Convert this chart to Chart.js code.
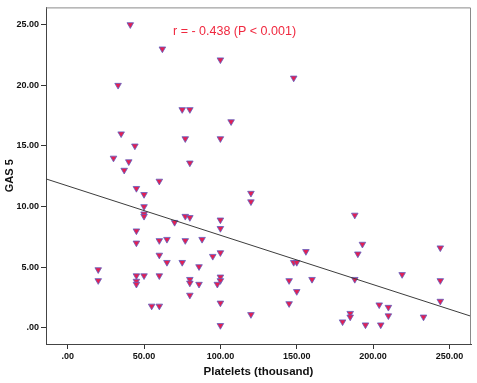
<!DOCTYPE html>
<html>
<head>
<meta charset="utf-8">
<style>
  html, body { margin: 0; padding: 0; background: #fff; }
  #wrap { width: 477px; height: 383px; }
</style>
<script src="https://cdn.jsdelivr.net/npm/chart.js@4/dist/chart.umd.min.js"></script>
</head>
<body>
<div id="wrap"><canvas id="scatterChart" width="477" height="383"></canvas></div>
<script>
var platelets = [41, 62, 100, 33, 75, 80, 107, 35, 77, 100, 44, 30, 40, 80, 37, 60, 45, 148,
  50, 50, 50, 50, 77, 80, 100, 70, 100, 45, 45, 60, 65, 77, 88, 100, 95, 60, 65, 75, 86, 20, 20,
  45, 50, 60, 45, 45, 80, 80, 86, 80, 100, 100, 98, 55, 60, 100, 100,
  120, 120, 188, 193, 190, 244, 156, 148, 150, 145, 160, 188, 219, 244, 150, 145, 244,
  204, 210, 210, 120, 185, 185, 180, 195, 205, 233];
var gas5 = [25, 23, 22.1, 20, 18, 18, 17, 16, 15.6, 15.6, 15, 14, 13.7, 13.6, 13, 12.1, 11.5, 20.6,
  11, 10, 9.4, 9.2, 9.2, 9.1, 8.9, 8.7, 8.2, 8, 7, 7.2, 7.3, 7.2, 7.3, 6.2, 5.9, 6, 5.4, 5.4, 5.05, 4.8, 3.9,
  4.3, 4.3, 4.3, 3.85, 3.6, 4, 3.7, 3.6, 2.7, 4.2, 3.9, 3.6, 1.8, 1.8, 2.05, 0.2,
  11.1, 10.4, 9.3, 6.9, 6.1, 6.6, 6.3, 5.4, 5.4, 3.9, 4, 4, 4.4, 3.9, 3, 2, 2.2,
  1.9, 1.7, 1, 1.1, 1.2, 0.9, 0.5, 0.25, 0.25, 0.9];
var fitX = [-14.2, 264.1];
var fitY = [12.28, 0.96];
var xTicks = [0, 50, 100, 150, 200, 250];
var yTicks = [0, 5, 10, 15, 20, 25];
var noteText = "r = - 0.438 (P < 0.001)";

(function () {
  var font = "Arial, 'Liberation Sans', sans-serif";
  var tickFmt = function (v) {
    return v === 0 ? ".00" : v.toFixed(2);
  };

  var pts = platelets.map(function (x, i) { return { x: x, y: gas5[i] }; });
  var fit = fitX.map(function (x, i) { return { x: x, y: fitY[i] }; });

  var frame = {
    id: "frame",
    afterDraw: function (chart) {
      var a = chart.chartArea, c = chart.ctx;
      c.save();
      c.strokeStyle = "#8a8a8a";
      c.lineWidth = 1;
      c.beginPath();
      c.moveTo(a.left, a.top + 0.5);
      c.lineTo(a.right - 0.5, a.top + 0.5);
      c.lineTo(a.right - 0.5, a.bottom);
      c.stroke();
      // annotation placed in data units
      var xs = chart.scales.x, ys = chart.scales.y;
      c.fillStyle = "#f0283f";
      c.font = "12.5px " + font;
      c.textBaseline = "middle";
      c.fillText(noteText, xs.getPixelForValue(69), ys.getPixelForValue(24.4));
      c.restore();
    },
  };

  new Chart(document.getElementById("scatterChart"), {
    type: "scatter",
    data: {
      datasets: [
        {
          type: "line",
          data: fit,
          borderColor: "#3c3c3c",
          borderWidth: 1,
          pointRadius: 0,
          fill: false,
        },
        {
          data: pts,
          pointStyle: "triangle",
          rotation: 180,
          pointRadius: 3.8,
          backgroundColor: "#e41f52",
          borderColor: "#6060c0",
          borderWidth: 0.8,
        },
      ],
    },
    options: {
      responsive: false,
      animation: false,
      layout: { padding: { top: 5, right: 6, left: 0, bottom: 0 } },
      plugins: { legend: { display: false }, tooltip: { enabled: false } },
      scales: {
        x: {
          type: "linear",
          min: fitX[0],
          max: fitX[1],
          afterBuildTicks: function (s) { s.ticks = xTicks.map(function (v) { return { value: v }; }); },
          afterFit: function (s) { s.height = 39; },
          grid: { drawOnChartArea: false, drawTicks: true, tickLength: 5, color: "#333" },
          border: { display: true, color: "#444", width: 1 },
          ticks: { color: "#111", padding: 2, maxRotation: 0, font: { family: font, size: 9, weight: "bold" }, callback: tickFmt },
          title: { display: true, text: "Platelets (thousand)", color: "#111", padding: { top: 0, bottom: 4 }, font: { family: font, size: 11.5, weight: "bold" } },
        },
        y: {
          min: -1.33,
          max: 26.42,
          afterBuildTicks: function (s) { s.ticks = yTicks.map(function (v) { return { value: v }; }); },
          afterFit: function (s) { s.width = 46; },
          grid: { drawOnChartArea: false, drawTicks: true, tickLength: 5, color: "#333" },
          border: { display: true, color: "#444", width: 1 },
          ticks: { color: "#111", padding: 2, font: { family: font, size: 9, weight: "bold" }, callback: tickFmt },
          title: { display: true, text: "GAS 5", color: "#111", padding: { top: 3, bottom: 0 }, font: { family: font, size: 11, weight: "bold" } },
        },
      },
    },
    plugins: [frame],
  });
})();
</script>
</body>
</html>
